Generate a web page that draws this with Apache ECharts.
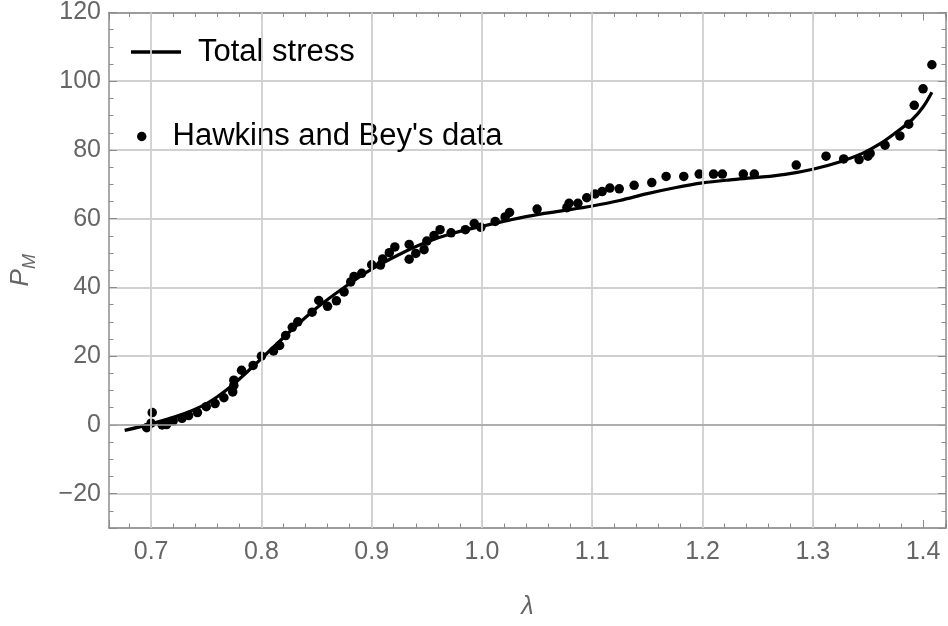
<!DOCTYPE html>
<html>
<head>
<meta charset="utf-8">
<script src="https://cdn.jsdelivr.net/npm/echarts@6/dist/echarts.min.js"></script>
<style>
  html, body { margin: 0; padding: 0; background: #ffffff; }
  #chart { width: 948px; height: 626px; }
</style>
</head>
<body>
<div id="chart"></div>
<script>
// Model curve: total stress P_M against stretch λ
const curveLambda = [0.676, 0.70, 0.725, 0.745, 0.76, 0.775, 0.80, 0.825, 0.85, 0.875,
  0.90, 0.925, 0.95, 0.975, 1.0, 1.025, 1.05, 1.075, 1.10, 1.125, 1.15, 1.175, 1.20,
  1.225, 1.25, 1.275, 1.30, 1.325, 1.345, 1.36, 1.375, 1.39, 1.40, 1.408];
const curvePM = [-1.6, 0.3, 2.7, 5.3, 8.2, 11.9, 19.3, 26.9, 34.0, 40.0,
  45.3, 49.6, 53.2, 55.9, 57.8, 59.6, 61.2, 62.4, 63.7, 65.3, 67.3, 69.0, 70.4,
  71.3, 72.0, 72.9, 74.4, 76.6, 79.0, 81.6, 85.0, 88.8, 92.5, 96.8];

// Measured points (Hawkins and Bey)
const dataLambda = [0.696, 0.700, 0.701, 0.710, 0.714, 0.720, 0.728, 0.734, 0.742, 0.750,
  0.758, 0.766, 0.774, 0.775, 0.775, 0.782, 0.7925, 0.800, 0.811, 0.8165,
  0.822, 0.828, 0.833, 0.846, 0.852, 0.860, 0.868, 0.875, 0.881, 0.884,
  0.891, 0.900, 0.908, 0.910, 0.916, 0.921, 0.934, 0.934, 0.940, 0.9475,
  0.950, 0.9565, 0.962, 0.972, 0.985, 0.993, 0.999, 1.012, 1.021, 1.025,
  1.050, 1.077, 1.079, 1.087, 1.095, 1.1026, 1.109, 1.116, 1.1245, 1.138,
  1.154, 1.167, 1.183, 1.197, 1.210, 1.218, 1.237, 1.247, 1.285, 1.312,
  1.328, 1.342, 1.350, 1.352, 1.3655, 1.379, 1.387, 1.392, 1.400, 1.408];
const dataPM = [-0.8, 0.5, 3.6, 0.0, 0.1, 1.2, 1.9, 2.7, 3.6, 5.3,
  6.2, 7.9, 9.6, 11.5, 13.0, 15.9, 17.3, 20.0, 21.5, 23.1,
  26.0, 28.4, 30.0, 32.8, 36.2, 34.5, 36.1, 38.7, 41.6, 43.2,
  44.1, 46.6, 46.5, 48.3, 50.1, 51.8, 48.2, 52.5, 49.9, 51.0,
  53.5, 55.1, 56.8, 55.9, 56.8, 58.6, 57.5, 59.2, 60.5, 61.8,
  62.8, 63.2, 64.5, 64.5, 66.1, 67.2, 67.9, 68.9, 68.7, 69.7,
  70.5, 72.3, 72.3, 73.0, 73.0, 73.0, 73.0, 73.0, 75.6, 78.2,
  77.4, 77.2, 78.2, 79.0, 81.4, 84.1, 87.5, 93.0, 97.8, 104.8];

// Axis ranges, tick steps and vertical grid positions
const xRange = [0.6618, 1.4208];
const yRange = [-30, 120];
const xStep = 0.1;
const yStep = 20;
const gridLambda = [0.7, 0.8, 0.9, 1.0, 1.1, 1.2, 1.3];
const seriesNames = ['Total stress', "Hawkins and Bey's data"];

const FONT = '"Liberation Sans", Arial, Helvetica, sans-serif';
const FRAME = '#8c8c8c';
const LABEL = '#666666';
const GRID = '#d0d0d0';

function pairs(xs, ys) { return xs.map((x, i) => [x, ys[i]]); }

function frameAxis(range, step, minorSplit, position, extra) {
  return Object.assign({
    type: 'value',
    position: position,
    min: range[0],
    max: range[1],
    splitNumber: 7,
    minInterval: step,
    maxInterval: step,
    axisLine: { show: true, onZero: false, lineStyle: { color: FRAME, width: 1.5 } },
    axisTick: { show: true, inside: true, length: 8, lineStyle: { color: FRAME, width: 1 } },
    minorTick: { show: true, splitNumber: minorSplit, length: 4.5, lineStyle: { color: FRAME, width: 1 } },
    splitLine: { show: false },
    axisLabel: { show: false }
  }, extra || {});
}

const chart = echarts.init(document.getElementById('chart'), null, { renderer: 'canvas' });

chart.setOption({
  animation: false,
  backgroundColor: '#ffffff',
  grid: { left: 107, right: 2, top: 7.5, bottom: 98, containLabel: false },
  legend: [
    {
      data: [{ name: seriesNames[0], icon: 'rect' }],
      left: 131, top: 34, padding: 0,
      itemWidth: 50, itemHeight: 3.5,
      selectedMode: false,
      textStyle: { fontFamily: FONT, fontSize: 31, color: '#000', lineHeight: 36, padding: [0, 0, 0, 12] }
    },
    {
      data: [{ name: seriesNames[1], icon: 'circle' }],
      left: 137, top: 118.5, padding: 0,
      itemWidth: 9.5, itemHeight: 9.5,
      selectedMode: false,
      textStyle: { fontFamily: FONT, fontSize: 31, color: '#000', lineHeight: 36, padding: [0, 0, 0, 21] }
    }
  ],
  xAxis: [
    frameAxis(xRange, xStep, 5, 'bottom', {
      name: 'λ',
      nameLocation: 'middle',
      nameGap: 67,
      nameTextStyle: { fontFamily: FONT, fontSize: 25, fontStyle: 'italic', color: LABEL },
      axisLabel: {
        show: true, margin: 12, color: LABEL, fontFamily: FONT, fontSize: 25,
        showMinLabel: false, showMaxLabel: false,
        formatter: v => v.toFixed(1)
      }
    }),
    frameAxis(xRange, xStep, 5, 'top')
  ],
  yAxis: [
    frameAxis(yRange, yStep, 4, 'left', {
      name: '{p|P}{m|M}',
      nameLocation: 'middle',
      nameRotate: 90,
      nameGap: 70,
      nameTextStyle: {
        color: LABEL,
        rich: {
          p: { fontFamily: FONT, fontSize: 26, fontStyle: 'italic', color: LABEL, lineHeight: 36 },
          m: { fontFamily: FONT, fontSize: 18, fontStyle: 'italic', color: LABEL, verticalAlign: 'bottom', lineHeight: 18 }
        }
      },
      splitLine: { show: true, lineStyle: { color: GRID, width: 1.8 } },
      axisLabel: {
        show: true, margin: 8, color: LABEL, fontFamily: FONT, fontSize: 25,
        showMinLabel: false,
        formatter: v => (v < 0 ? '\u2212' + Math.abs(v) : String(v))
      }
    }),
    frameAxis(yRange, yStep, 4, 'right')
  ],
  series: [
    {
      // vertical grid lines and the P_M = 0 axis line
      type: 'line',
      data: [],
      z: 1,
      silent: true,
      markLine: {
        silent: true,
        symbol: ['none', 'none'],
        label: { show: false },
        animation: false,
        data: gridLambda.map(v => ({ xAxis: v, lineStyle: { color: GRID, width: 1.8, type: 'solid' } }))
          .concat([{ yAxis: 0, lineStyle: { color: '#a3a3a3', width: 1.5, type: 'solid' } }])
      }
    },
    {
      name: seriesNames[0],
      type: 'line',
      z: 3,
      data: pairs(curveLambda, curvePM),
      smooth: 0.35,
      showSymbol: false,
      symbol: 'none',
      color: '#000000',
      lineStyle: { color: '#000000', width: 3.2 }
    },
    {
      name: seriesNames[1],
      type: 'scatter',
      z: 4,
      data: pairs(dataLambda, dataPM),
      symbol: 'circle',
      symbolSize: 9.5,
      color: '#000000',
      itemStyle: { color: '#000000', opacity: 1 }
    }
  ]
});
</script>
</body>
</html>
